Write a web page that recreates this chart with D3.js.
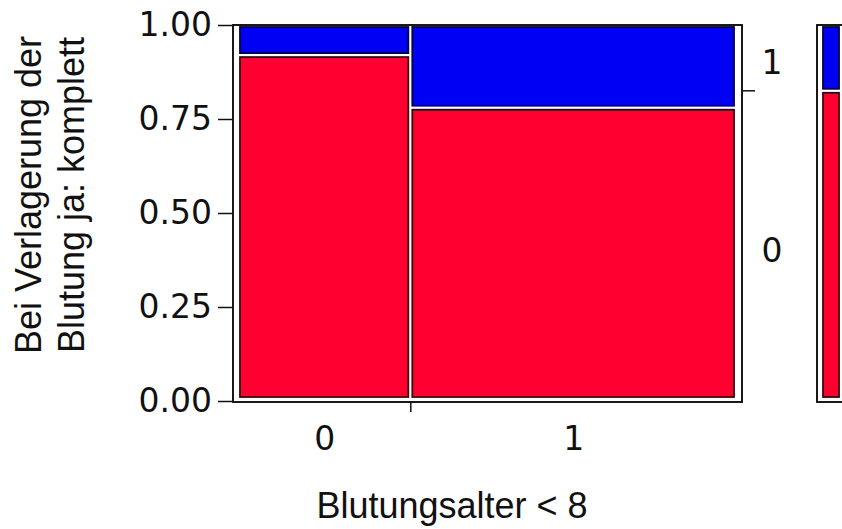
<!DOCTYPE html>
<html lang="de">

<head>
    <meta charset="UTF-8">
    <title>Mosaikplot</title>
    <script src="https://cdn.jsdelivr.net/npm/d3@7"></script>
    <style>
        body {
            margin: 0;
            background: #fff;
        }

        svg {
            display: block;
        }
    </style>
</head>

<body>
    <script>
        'use strict';
        // Spalten: Blutungsalter < 8 (Anteil der Fälle)
        var categories = ['0', '1'];
        var colShare = [0.346, 0.654];
        // Anteil "1" (blau) je Spalte, Rest ist "0" (rot)
        var shareOne = [0.08, 0.22];
        // Randverteilung (rechte Säule)
        var marginalOne = 0.175;
        var yTicks = [0, 0.25, 0.5, 0.75, 1];
        var levels = ['0', '1'];

        var w = 842,
            h = 529,
            pLeft = 233,
            pRight = 742,
            pTop = 25,
            pBottom = 401;

        var red = '#ff0030',
            blue = '#0000f2';

        var svg = d3.select('body')
            .append('svg')
            .attr('width', w)
            .attr('height', h);

        var y = d3.scaleLinear().domain([0, 1]).range([pBottom, pTop]);
        // x fuer die Zellen (etwas eingerueckt im Rahmen)
        var x = d3.scaleLinear().domain([0, 1]).range([238, 736]);

        // Zellen aufbauen
        var cells = [];
        var cum = 0;
        colShare.forEach(function(s, i) {
            var p = shareOne[i];
            cells.push({ col: i, x0: cum, x1: cum + s, y0: 0, y1: 1 - p, level: '0' });
            cells.push({ col: i, x0: cum, x1: cum + s, y0: 1 - p, y1: 1, level: '1' });
            cum += s;
        });

        // Rahmen
        svg.append('rect')
            .attr('x', pLeft)
            .attr('y', pTop)
            .attr('width', pRight - pLeft)
            .attr('height', pBottom - pTop + 1)
            .attr('fill', '#fff')
            .attr('stroke', '#000')
            .attr('stroke-width', 1.8);

        var g = 2;
        svg.selectAll('rect.cell')
            .data(cells)
            .enter()
            .append('rect')
            .attr('class', 'cell')
            .attr('x', d => x(d.x0) + g)
            .attr('width', d => x(d.x1) - x(d.x0) - 2 * g)
            .attr('y', d => y(d.y1) + g)
            .attr('height', d => y(d.y0) - y(d.y1) - 2 * g - (d.y0 === 0 ? 2 : 0))
            .attr('fill', d => d.level === '1' ? blue : red)
            .attr('stroke', d => d.level === '1' ? '#000040' : '#3a000c')
            .attr('stroke-width', 1.8);

        // y-Achse
        var yAxis = svg.append('g')
            .attr('transform', 'translate(' + pLeft + ',0)')
            .call(d3.axisLeft(y)
                .tickValues(yTicks)
                .tickFormat(d3.format('.2f'))
                .tickSize(15)
                .tickPadding(6));
        yAxis.select('.domain').remove();
        yAxis.selectAll('line').attr('stroke', '#111').attr('stroke-width', 1.5);
        yAxis.selectAll('text')
            .attr('font-family', 'DejaVu Sans')
            .attr('font-size', '33px')
            .attr('fill', '#111');

        // x-Achse: Trennstrich und Beschriftung in der Spaltenmitte
        var bounds = [colShare[0]];
        var centers = [colShare[0] / 2, colShare[0] + colShare[1] / 2];
        var xTick = svg.append('g')
            .attr('transform', 'translate(0,' + (pBottom + 1) + ')')
            .call(d3.axisBottom(x).tickValues(bounds).tickFormat('').tickSize(10));
        xTick.select('.domain').remove();
        xTick.selectAll('line').attr('stroke', '#111').attr('stroke-width', 1.5);

        var xLab = svg.append('g')
            .attr('transform', 'translate(0,' + pBottom + ')')
            .call(d3.axisBottom(x).tickValues(centers)
                .tickFormat((d, i) => categories[i])
                .tickSize(0)
                .tickPadding(26));
        xLab.select('.domain').remove();
        xLab.selectAll('text')
            .attr('font-family', 'DejaVu Sans')
            .attr('font-size', '33px')
            .attr('fill', '#111');

        // Achsentitel
        svg.append('text')
            .attr('x', 452)
            .attr('y', 518)
            .attr('text-anchor', 'middle')
            .attr('font-family', 'Liberation Sans, Arial')
            .attr('font-size', '36px')
            .attr('fill', '#111')
            .text('Blutungsalter < 8');

        var yTitle = ['Bei Verlagerung der', 'Blutung ja: komplett'];
        svg.selectAll('text.ytitle')
            .data(yTitle)
            .enter()
            .append('text')
            .attr('class', 'ytitle')
            .attr('transform', (d, i) => 'translate(' + (41 + i * 43) + ',195) rotate(-90)')
            .attr('text-anchor', 'middle')
            .attr('font-family', 'Liberation Sans, Arial')
            .attr('font-size', '36px')
            .attr('fill', '#111')
            .text(d => d);

        // rechte Achse (Stufen) mit Randverteilung
        var split = 1 - marginalOne;
        svg.append('line')
            .attr('x1', pRight + 1)
            .attr('x2', pRight + 13)
            .attr('y1', y(split))
            .attr('y2', y(split))
            .attr('stroke', '#111')
            .attr('stroke-width', 1.5);

        var levelMid = [split / 2, (split + 1) / 2];
        svg.selectAll('text.level')
            .data(levels)
            .enter()
            .append('text')
            .attr('class', 'level')
            .attr('x', 772)
            .attr('y', (d, i) => y(levelMid[i]) + 16)
            .attr('text-anchor', 'middle')
            .attr('font-family', 'DejaVu Sans')
            .attr('font-size', '33px')
            .attr('fill', '#111')
            .text(d => d);

        // Randsaeule rechts
        var mx = d3.scaleLinear().domain([0, 1]).range([821, 841]);
        svg.append('rect')
            .attr('x', 817)
            .attr('y', pTop)
            .attr('width', 40)
            .attr('height', pBottom - pTop + 1)
            .attr('fill', '#fff')
            .attr('stroke', '#000')
            .attr('stroke-width', 1.8);

        var margCells = [
            { y0: 0, y1: split, level: '0' },
            { y0: split, y1: 1, level: '1' }
        ];
        svg.selectAll('rect.marg')
            .data(margCells)
            .enter()
            .append('rect')
            .attr('class', 'marg')
            .attr('x', mx(0) + g)
            .attr('width', mx(1) - mx(0) - 2 * g)
            .attr('y', d => y(d.y1) + g)
            .attr('height', d => y(d.y0) - y(d.y1) - 2 * g - (d.y0 === 0 ? 2 : 0))
            .attr('fill', d => d.level === '1' ? blue : red)
            .attr('stroke', d => d.level === '1' ? '#000040' : '#3a000c')
            .attr('stroke-width', 1.8);
    </script>
</body>

</html>
